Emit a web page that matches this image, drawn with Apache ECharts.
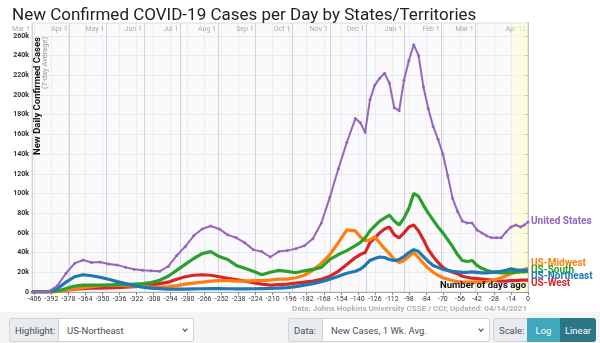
<!DOCTYPE html>
<html><head><meta charset="utf-8">
<script src="https://cdn.jsdelivr.net/npm/echarts@6/dist/echarts.min.js"></script>
<style>
html,body{margin:0;padding:0;background:#fff;width:600px;height:343px;overflow:hidden;}
#chart{position:absolute;left:0;top:0;width:600px;height:343px;}
.bar{position:absolute;left:0;top:312px;width:600px;height:31px;background:#f4f4f4;}
.ctl{position:absolute;top:318px;height:24px;box-sizing:border-box;border:1px solid #ced4da;font:9.5px Roboto,sans-serif;color:#495057;display:flex;align-items:center;padding:0 5px;white-space:nowrap;}
.lbl{background:#e9ecef;}
.sel{background:#fff;padding-left:8px;}
.chev{position:absolute;right:6px;top:8px;width:3px;height:3px;border-right:1px solid #444;border-bottom:1px solid #444;transform:rotate(45deg);}
.btn{color:#fff;justify-content:center;border:none;padding:0;}
</style></head>
<body>
<div id="chart"></div>
<div class="bar"></div>
<div class="ctl lbl" style="left:9px;width:50px;border-radius:3px 0 0 3px;">Highlight:</div>
<div class="ctl sel" style="left:58px;width:136px;border-radius:0 3px 3px 0;">US-Northeast<span class="chev"></span></div>
<div class="ctl lbl" style="left:288px;width:35px;border-radius:3px 0 0 3px;">Data:</div>
<div class="ctl sel" style="left:322px;width:168px;border-radius:0 3px 3px 0;">New Cases, 1 Wk. Avg.<span class="chev"></span></div>
<div class="ctl lbl" style="left:493px;width:35px;border-radius:3px 0 0 3px;">Scale:</div>
<div class="ctl btn" style="left:527px;width:33px;background:#3fa8bc;">Log</div>
<div class="ctl btn" style="left:560px;width:36px;background:#2b7787;border-radius:0 3px 3px 0;">Linear</div>
<script>
const days = [-408,-401,-394,-387,-380,-373,-366,-359,-352,-345,-338,-331,-324,-317,-310,-303,-296,-289,-282,-275,-268,-261,-254,-247,-240,-233,-226,-219,-212,-205,-198,-191,-184,-177,-170,-163,-156,-149,-142,-138,-134,-130,-126,-122,-118,-114,-110,-106,-102,-98,-94,-90,-86,-82,-78,-74,-70,-66,-62,-58,-54,-50,-46,-42,-38,-34,-30,-26,-22,-18,-14,-10,-6,-3,0];

const usValues = [0,100,600,6500,19000,29000,32500,30000,30500,28500,
  27500,25000,23000,22000,21500,21000,26000,37000,46000,57000,
  64000,67000,64000,58000,55000,50000,43000,41000,35500,41000,
  42000,44000,47000,54000,70000,96000,125000,152000,176000,
  172000,162000,195000,210000,217000,222000,212000,187000,184000,215000,
  235000,251000,240000,208000,186000,168000,155000,140000,118000,95000,
  82000,72000,70000,70000,63000,60000,57000,55000,55000,55000,
  61000,66000,68000,66000,68000,71000];

const southValues = [0,0,100,1000,3500,6000,7000,7000,7000,7000,
  7500,7500,8000,8500,9500,12000,16000,22000,28000,34000,
  39000,41000,36000,33000,27000,24000,21000,17500,20000,22000,
  21000,19500,21500,23000,25000,33000,38000,42000,47000,
  50000,55000,62000,67000,72000,75000,78000,72000,68000,75000,
  85000,100000,97000,88000,80000,73000,66000,60000,53000,46000,
  38000,32000,31000,32000,27000,24000,22000,20500,20000,19500,
  19500,20000,20000,20500,20500,21000];

const westValues = [0,0,100,600,1800,3000,3500,3800,4000,4200,
  4500,5000,5500,6000,7000,8500,10000,13000,15500,17000,
  17500,17000,15500,14000,12500,11000,9500,8000,7000,7500,
  8000,9000,10000,11000,13000,16000,21000,28000,35000,
  38000,40000,50000,55000,60000,64000,66000,58000,55000,60000,
  66000,68000,62000,53000,43000,36000,30000,25000,22000,20000,
  18500,16000,15000,14000,13500,13000,12500,12000,11500,11000,
  11000,11500,11500,12000,12000,12000];

const midwestValues = [0,0,100,700,2000,3500,4500,5500,6500,7000,
  7000,6500,6000,5500,5000,5000,5500,6500,8000,9000,
  10000,11000,11500,11500,11000,11000,11500,11500,12000,13000,
  13000,14500,17000,22000,29000,38000,50000,63000,62000,
  56000,52000,53000,56000,50000,44000,39000,33000,30000,32000,
  36000,40000,35000,29000,24000,20000,17000,14500,13000,11500,
  10500,10000,10000,10000,10000,10000,10500,11500,13000,14500,
  16500,18500,20000,22000,23000,24000];

const northeastValues = [0,100,500,3500,10000,15500,17500,16500,15000,13000,
  10500,8500,6500,5000,4000,3500,3000,3000,3000,3200,
  3300,3500,3500,3300,3200,3200,3300,3500,3700,4000,
  4500,5500,7000,8500,10500,13000,16000,19000,21000,
  23000,27000,32000,34000,35500,35000,33000,32000,33000,36000,
  40000,43000,41000,36000,31000,27000,25000,23000,22000,21000,
  20500,20000,20000,20500,20000,19500,19500,20000,20500,21000,
  22000,23500,22500,22000,22000,22000];

const bottomTicks = [-406,-392,-378,-364,-350,-336,-322,-308,-294,-280,-266,-252,-238,-224,-210,-196,-182,-168,-154,-140,-126,-112,-98,-84,-70,-56,-42,-28,-14,0];
const monthDays = [-408,-377,-347,-316,-286,-255,-224,-194,-163,-133,-102,-71,-43,0];
const monthLabels = ['Mar 1','Apr 1','May 1','Jun 1','Jul 1','Aug 1','Sep 1','Oct 1','Nov 1','Dec 1','Jan 1','Feb 1','Mar 1','Apr 13'];
const recentBand = [-12, 0];

const FONT = 'Roboto, sans-serif';

function mk(name, vals, color, width, dotted, dy) {
  return {
    type: 'line', name: name,
    data: days.map((d, i) => [d, vals[i]]),
    showSymbol: dotted, symbol: 'circle', symbolSize: 3,
    lineStyle: { width: width, color: color },
    itemStyle: { color: color },
    silent: true, animation: false,
    endLabel: { show: true, formatter: name, color: color, fontWeight: 'bold',
      fontSize: 10, fontFamily: FONT, distance: 3, offset: [0, dy] }
  };
}

const chart = echarts.init(document.getElementById('chart'), null, { renderer: 'canvas' });
const series = [
  mk('US-West', westValues, '#d62728', 3.2, false, 3),
  mk('US-Midwest', midwestValues, '#ff7f0e', 3.2, false, -5),
  mk('US-South', southValues, '#2ca02c', 3.2, false, -1),
  mk('US-Northeast', northeastValues, '#1f77b4', 3.2, false, 6),
  mk('United States', usValues, '#9467bd', 2, true, -1)
];
series[0].markArea = { silent: true, itemStyle: { color: 'rgba(255,255,205,0.6)' },
  data: [[{ xAxis: recentBand[0] }, { xAxis: recentBand[1] }]] };

chart.setOption({
  animation: false,
  title: { text: 'New Confirmed COVID-19 Cases per Day by States/Territories', left: 7, top: 2,
    textStyle: { fontFamily: '"Liberation Sans Narrow", Roboto, sans-serif', fontWeight: 'normal', fontSize: 17, color: '#222' } },
  grid: { left: 32, right: 72, top: 23, bottom: 51, show: true, backgroundColor: '#fafafd', borderColor: '#ddd', borderWidth: 1 },
  xAxis: [
    { type: 'value', position: 'bottom', min: -408, max: 0,
      axisLine: { show: true, onZero: false, lineStyle: { color: '#aaa' } },
      axisTick: { show: true, customValues: bottomTicks, length: 3, lineStyle: { color: '#888' } },
      axisLabel: { customValues: bottomTicks, fontSize: 7, color: '#333', margin: 4, fontFamily: FONT, showMinLabel: true, showMaxLabel: true },
      splitLine: { show: true, lineStyle: { color: '#ebebf0' } } },
    { type: 'value', position: 'top', min: -408, max: 0,
      axisLine: { show: false },
      axisTick: { show: false, customValues: monthDays },
      axisLabel: { inside: true, customValues: monthDays, align: 'right', fontSize: 7, color: '#aaa', margin: 3,
        fontFamily: FONT, padding: [0, 2, 0, 0], showMinLabel: true, showMaxLabel: true,
        formatter: v => monthLabels[monthDays.indexOf(v)] },
      splitLine: { show: true, lineStyle: { color: '#d2d2d6', width: 1 } } }
  ],
  yAxis: [
    { type: 'value', min: 0, max: 273000, interval: 20000,
      axisLine: { show: true, lineStyle: { color: '#aaa' } },
      axisTick: { show: true, length: 4, lineStyle: { color: '#888' } },
      axisLabel: { fontSize: 7, color: '#333', fontWeight: 'bold', margin: 3, fontFamily: FONT, showMaxLabel: false,
        formatter: v => v === 0 ? '0' : (v / 1000) + 'k' },
      splitLine: { show: true, lineStyle: { color: '#e8e8ef' } } },
    { type: 'value', position: 'right', min: 0, max: 273000,
      axisLine: { show: true, lineStyle: { color: '#c4c4c4', width: 2 } },
      axisTick: { show: false }, axisLabel: { show: false }, splitLine: { show: false } }
  ],
  series: series,
  graphic: [
    { type: 'text', x: 38, y: 37, rotation: Math.PI / 2, z: 100,
      style: { text: 'New Daily Confirmed Cases', fill: '#111', font: 'bold 9.5px ' + FONT, align: 'right', verticalAlign: 'middle' } },
    { type: 'text', x: 45, y: 37, rotation: Math.PI / 2, z: 100,
      style: { text: '(7-day Average)', fill: '#999', font: '7.5px ' + FONT, align: 'right', verticalAlign: 'middle' } },
    { type: 'text', x: 526, y: 286, z: 100,
      style: { text: 'Number of days ago', fill: '#111', font: 'bold 9.5px ' + FONT, align: 'right', verticalAlign: 'middle' } },
    { type: 'text', x: 527, y: 309, z: 100,
      style: { text: 'Data: Johns Hopkins University CSSE / CCI; Updated: 04/14/2021', fill: '#b0b0b0', font: 'bold 8px ' + FONT, align: 'right', verticalAlign: 'middle' } },
    { type: 'text', x: 527, y: 317, z: 100,
      style: { text: 'Interactive Visualization: https://91-DIVOC.com/ by @profwade_', fill: '#aaa', font: '5px ' + FONT, align: 'right', verticalAlign: 'middle' } }
  ]
});
</script>
</body></html>
